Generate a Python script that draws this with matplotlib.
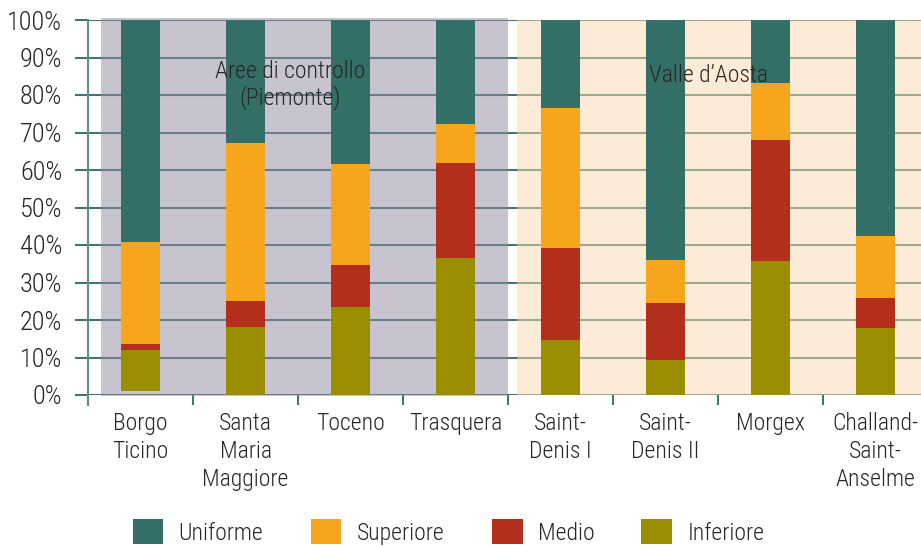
import matplotlib
matplotlib.use("Agg")
import matplotlib.pyplot as plt
from matplotlib.patches import Patch
import numpy as np

plt.rcParams['font.family'] = ['Roboto Condensed', 'DejaVu Sans']
plt.rcParams['font.weight'] = 'light'

categories = ["Borgo\nTicino", "Santa\nMaria\nMaggiore", "Toceno", "Trasquera",
              "Saint-\nDenis I", "Saint-\nDenis II", "Morgex", "Challand-\nSaint-\nAnselme"]
base_offset = [1.2, 0, 0, 0, 0, 0, 0, 0]
inferiore = [10.8, 18.1, 23.5, 36.6, 14.8, 9.3, 35.7, 17.9]
medio = [1.6, 7.0, 11.2, 25.3, 24.4, 15.2, 32.3, 8.0]
superiore = [27.2, 42.1, 26.9, 10.4, 37.3, 11.5, 15.2, 16.5]
uniforme = [59.2, 32.8, 38.4, 27.7, 23.5, 64.0, 16.8, 57.6]
series_names = ["Uniforme", "Superiore", "Medio", "Inferiore"]
yticks = [0, 10, 20, 30, 40, 50, 60, 70, 80, 90, 100]
group_labels = ["Aree di controllo\n(Piemonte)", "Valle d\u2019Aosta"]

colors = {"Uniforme": "#336F66", "Superiore": "#F7A51C",
          "Medio": "#B32E1B", "Inferiore": "#9A8E00"}
grid_c = "#46736E"
text_c = "#262626"
FS = 17

fig = plt.figure(figsize=(9.21, 5.47), dpi=100)
ax = fig.add_axes([88/921, 1-395/547, (928-88)/921, (395-20)/547])

x = np.arange(len(categories))
w = 0.372
bottom = np.array(base_offset, dtype=float)
for name, vals in [("Inferiore", inferiore), ("Medio", medio),
                   ("Superiore", superiore), ("Uniforme", uniforme)]:
    v = np.array(vals, dtype=float)
    ax.bar(x, v, w, bottom=bottom, color=colors[name], zorder=3, linewidth=0)
    bottom = bottom + v

# background group shading (semi-transparent, over grid)
ax.axvspan(-0.376, 3.5, ymin=-0.003, ymax=1.005, color=(145/255, 137/255, 161/255),
           alpha=0.5, zorder=2, linewidth=0, clip_on=False)
ax.axvspan(3.586, 7.6, ymin=0, ymax=1.0, color=(251/255, 219/255, 177/255),
           alpha=0.5, zorder=2, linewidth=0)

ax.set_xlim(-0.5, 7.5)
ax.set_ylim(0, 100)
ax.set_yticks(yticks)
ax.set_yticklabels([f"{t}%" for t in yticks], fontsize=19, color=text_c)
ax.yaxis.grid(True, color=grid_c, linewidth=1.5, zorder=1)
ax.set_axisbelow(True)
ax.tick_params(axis='y', length=9.4, width=1.5, color=grid_c, pad=9)

ax.set_xticks(x)
ax.set_xticklabels(categories, fontsize=FS, color=text_c, linespacing=1.3)
ax.tick_params(axis='x', which='major', length=0, pad=12)
ax.set_xticks(np.arange(-0.5, 8.0, 1.0), minor=True)
ax.tick_params(axis='x', which='minor', length=7.5, width=1.5, color=grid_c)

for s in ['top', 'right', 'bottom']:
    ax.spines[s].set_visible(False)
ax.spines['left'].set_color("#5E9088")
ax.spines['left'].set_linewidth(1.5)
ax.spines['left'].set_bounds(-2.7, 100)
ax.spines['left'].set_zorder(4)

ax.text(1.424, 82.7, group_labels[0], ha='center', va='center', fontsize=FS,
        color=text_c, linespacing=1.1, zorder=5)
ax.text(5.405, 85.3, group_labels[1], ha='center', va='center', fontsize=FS,
        color=text_c, zorder=5)

handles = [Patch(facecolor=colors[n], edgecolor='none') for n in series_names]
fig.legend(handles, series_names, loc='center', bbox_to_anchor=(0.487, 1-532/547),
           ncol=4, frameon=False, fontsize=FS, handlelength=1.31, handleheight=1.27,
           handletextpad=0.64, columnspacing=2.0, labelcolor=text_c)

fig.savefig("out.png", dpi=100)
